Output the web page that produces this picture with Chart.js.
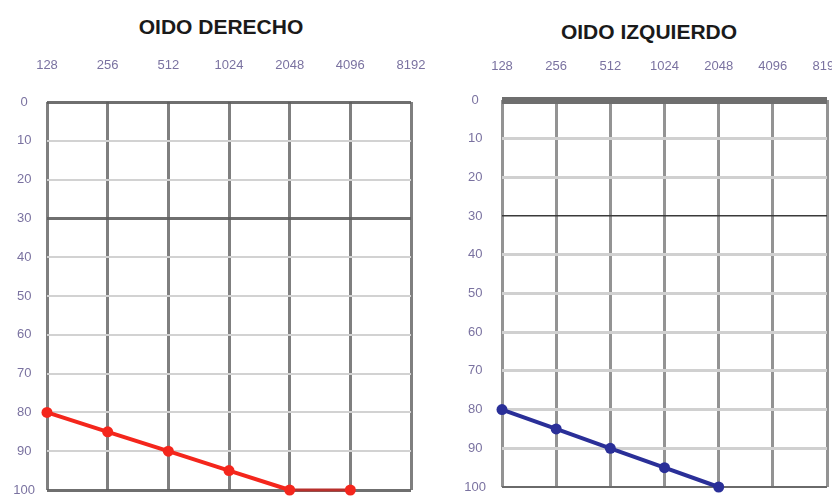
<!DOCTYPE html>
<html>
<head>
<meta charset="utf-8">
<script src="https://cdn.jsdelivr.net/npm/chart.js@4.4.1/dist/chart.umd.min.js"></script>
<style>
  html, body { margin: 0; padding: 0; background: #ffffff; }
  #wrap { position: relative; width: 832px; height: 498px; overflow: hidden; background: #fff; }
  .ttl { position: absolute; font-family: "Liberation Sans", Arial, sans-serif; font-weight: bold;
         font-size: 21px; color: #1a1a1a; white-space: nowrap; transform: translate(-50%, -50%); }
  canvas { position: absolute; top: 0; }
</style>
</head>
<body>
<div id="wrap">
  <div class="ttl" id="t1" style="left:221px; top:27px;">OIDO DERECHO</div>
  <div class="ttl" id="t2" style="left:649px; top:32px;">OIDO IZQUIERDO</div>
  <canvas id="c1" width="440" height="498" style="left:0px;"></canvas>
  <canvas id="c2" width="402" height="498" style="left:430px;"></canvas>
</div>
<script>
// ---- data ----
const frequencies = ["128", "256", "512", "1024", "2048", "4096", "8192"];
const dbTicks = [0, 10, 20, 30, 40, 50, 60, 70, 80, 90, 100];
const rightEar = [80, 85, 90, 95, 100, 100, null];   // OIDO DERECHO (dB)
const leftEar  = [80, 85, 90, 95, 100, null, null];  // OIDO IZQUIERDO (dB)
const titleRight = "OIDO DERECHO";
const titleLeft = "OIDO IZQUIERDO";

document.getElementById('t1').textContent = titleRight;
document.getElementById('t2').textContent = titleLeft;

const tickFont = { family: "'Liberation Sans', Arial, sans-serif", size: 13 };
const tickColor = '#7a72a0';

function makeChart(id, cfg) {
  return new Chart(document.getElementById(id), {
    type: 'line',
    data: {
      labels: frequencies,
      datasets: [{
        data: cfg.values,
        borderColor: cfg.color,
        backgroundColor: cfg.color,
        borderWidth: 4,
        pointRadius: 5.5,
        pointHoverRadius: 5.5,
        pointBorderWidth: 0,
        pointBackgroundColor: cfg.color,
        tension: 0,
        spanGaps: false,
        clip: false,
        segment: {
          borderColor: c => (c.p0.parsed.y === 100 && c.p1.parsed.y === 100) ? cfg.flatColor : cfg.color,
          borderWidth: c => (c.p0.parsed.y === 100 && c.p1.parsed.y === 100) ? 3 : 4
        }
      }]
    },
    options: {
      responsive: false,
      animation: false,
      devicePixelRatio: 1,
      layout: { autoPadding: false, padding: { left: 0, right: cfg.padRight, top: 0, bottom: cfg.padBottom } },
      plugins: { legend: { display: false }, tooltip: { enabled: false }, title: { display: false } },
      scales: {
        x: {
          type: 'category',
          position: 'top',
          offset: false,
          border: { display: false },
          grid: { color: cfg.vColor, lineWidth: 3, drawTicks: false },
          ticks: { font: tickFont, color: tickColor, padding: cfg.xPad, maxRotation: 0, autoSkip: false },
          afterFit: s => { s.height = cfg.topH; s.paddingLeft = 0; s.paddingRight = 0; }
        },
        y: {
          type: 'linear',
          reverse: true,
          min: 0,
          max: 100,
          afterBuildTicks: s => { s.ticks = dbTicks.map(v => ({ value: v })); },
          border: { display: false },
          grid: {
            drawTicks: false,
            color: c => cfg.hColor(c.tick.value),
            lineWidth: c => cfg.hWidth(c.tick.value)
          },
          ticks: { font: tickFont, color: tickColor, padding: cfg.yPad, crossAlign: 'center' },
          afterFit: s => { s.width = cfg.leftW; s.paddingTop = 0; s.paddingBottom = 0; }
        }
      }
    }
  });
}

makeChart('c1', {
  values: rightEar,
  color: '#f4261c',
  flatColor: '#b8302c',
  padRight: 29, padBottom: 8, topH: 102, leftW: 47, xPad: 29, yPad: 12,
  vColor: 'rgba(105,105,105,0.85)',
  hColor: v => (v === 0 || v === 30 || v === 100) ? 'rgba(95,95,95,0.9)' : '#d2d2d2',
  hWidth: v => (v === 0 || v === 30 || v === 100) ? 3 : 2
});

makeChart('c2', {
  values: leftEar,
  color: '#2a2f98',
  flatColor: '#2a2f98',
  padRight: 5, padBottom: 11, topH: 100, leftW: 72, xPad: 26, yPad: 16,
  vColor: 'rgba(120,120,120,0.8)',
  hColor: v => v === 0 ? '#6e6e6e' : (v === 30 ? '#3a3a3a' : (v === 100 ? '#6a6a6a' : '#d0d0d0')),
  hWidth: v => v === 0 ? 7 : (v === 30 ? 1.5 : (v === 100 ? 2 : 3))
});
</script>
</body>
</html>
